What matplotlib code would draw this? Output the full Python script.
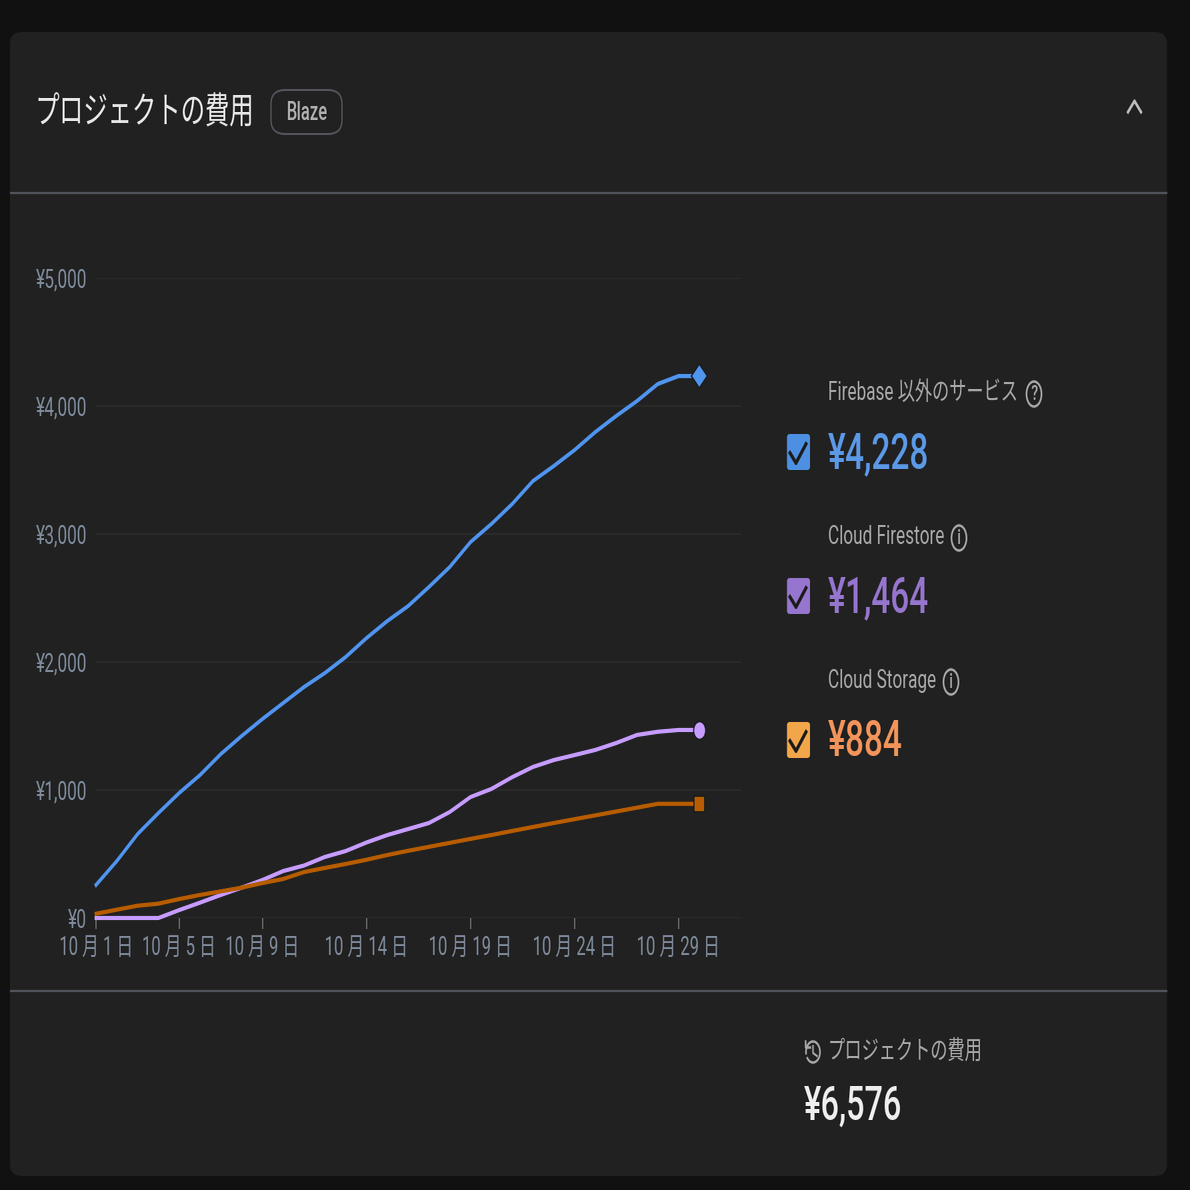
import matplotlib
matplotlib.use("Agg")
import matplotlib.pyplot as plt
from matplotlib.patches import FancyBboxPatch, Ellipse, Arc
from PIL import Image

plt.rcParams['font.family'] = ['Roboto', 'Noto Sans CJK JP', 'DejaVu Sans']

# the reference is squeezed sideways, so draw wide and shrink at the end
SQUEEZE = 1.5

days = list(range(1, 31))
other_services = [258, 445, 656, 820, 977, 1117, 1281, 1422, 1555, 1680,
                  1805, 1914, 2039, 2187, 2320, 2437, 2586, 2742, 2937, 3078,
                  3234, 3414, 3531, 3656, 3797, 3922, 4039, 4172, 4234, 4234]
firestore = [0, 0, 0, 0, 62, 120, 180, 237, 297, 367,
             410, 477, 523, 590, 648, 695, 742, 828, 945, 1008,
             1100, 1180, 1234, 1273, 1313, 1367, 1430, 1455, 1469, 1469]
storage = [33, 65, 96, 112, 148, 180, 208, 237, 273, 305,
           359, 391, 422, 455, 492, 525, 556, 587, 618, 648,
           680, 711, 742, 772, 802, 832, 862, 892, 892, 892]

tick_days = [1, 5, 9, 14, 19, 24, 29]
tick_labels = ["10 月 1 日", "10 月 5 日", "10 月 9 日", "10 月 14 日",
               "10 月 19 日", "10 月 24 日", "10 月 29 日"]
y_ticks = [0, 1000, 2000, 3000, 4000, 5000]
y_labels = ["¥0", "¥1,000", "¥2,000", "¥3,000", "¥4,000", "¥5,000"]

names = ["Firebase 以外のサービス", "Cloud Firestore", "Cloud Storage"]
amounts = ["¥4,228", "¥1,464", "¥884"]
icons = ["?", "i", "i"]
title = "プロジェクトの費用"
plan = "Blaze"
total = "¥6,576"

fig = plt.figure(figsize=(1190 * SQUEEZE / 100, 11.9), dpi=100, facecolor="#111111")

# page layer, coordinates are pixels of the final picture
bg = fig.add_axes([0, 0, 1, 1])
bg.set_xlim(0, 1190)
bg.set_ylim(1190, 0)
bg.axis("off")

bg.add_patch(FancyBboxPatch((22, 44), 1133, 1120, boxstyle="round,pad=12,rounding_size=12",
                            fc="#212121", ec="none", mutation_aspect=1))
bg.plot([10, 1167], [193, 193], color="#50525c", lw=1.6, solid_capstyle="butt")
bg.plot([10, 1167], [991, 991], color="#50525c", lw=1.6, solid_capstyle="butt")

bg.text(35, 113, title, fontsize=26.3, color="#e8e8e8", va="center")
bg.add_patch(FancyBboxPatch((285, 104), 43, 16, boxstyle="round,pad=14,rounding_size=14",
                            fc="none", ec="#55575f", lw=1.4))
bg.text(306.5, 113, plan, fontsize=18, color="#b0b0b0", ha="center", va="center", fontweight="medium")
bg.plot([1128, 1134.5, 1141], [112, 101, 112], color="#bdbdbd", lw=2.4)

box_colors = ["#4d8fe0", "#9575cd", "#f2a64a"]
amount_colors = ["#5b98e6", "#9575cd", "#f2945a"]
row_y = [392, 536, 680]
icon_x = [1034, 959, 951]
for i in range(3):
    y = row_y[i]
    bg.text(828, y + 1, names[i], fontsize=18.5, color="#a8a8a8", va="center")
    bg.add_patch(Ellipse((icon_x[i], y + 2), 15, 25, fc="none", ec="#a8a8a8", lw=1.8))
    bg.text(icon_x[i], y + 2, icons[i], fontsize=15, color="#a8a8a8", ha="center", va="center",
            fontweight="medium")
    bg.add_patch(FancyBboxPatch((790, y + 45), 17, 30, boxstyle="round,pad=3,rounding_size=3",
                                fc=box_colors[i], ec="none"))
    bg.plot([790, 796, 806], [y + 61, y + 71, y + 52], color="#1c1c1c", lw=3)
    bg.text(828, y + 62, amounts[i], fontsize=36, color=amount_colors[i], va="center",
            fontweight="medium")

# history icon next to the total
bg.add_patch(Arc((813, 1052), 14, 21, theta1=-200, theta2=140, color="#a8a8a8", lw=1.8))
bg.plot([805, 805, 810], [1041, 1047, 1047], color="#a8a8a8", lw=1.8)
bg.plot([813, 813, 817], [1046, 1053, 1056], color="#a8a8a8", lw=1.6)
bg.text(828, 1053, title, fontsize=18.5, color="#a8a8a8", va="center")
bg.text(804, 1107, total, fontsize=35, color="#eeeeee", va="center", fontweight="medium")

# chart, x from 96 to 741 px, y from 278 to 918 px
ax = fig.add_axes([96 / 1190, 1 - 918 / 1190, (741 - 96) / 1190, 640 / 1190])
ax.patch.set_alpha(0)
ax.set_xlim(1, 32)
ax.set_ylim(0, 5000)
for s in ax.spines.values():
    s.set_visible(False)
ax.grid(True, axis="y", color="#2a2a2a", lw=1.4)
ax.set_axisbelow(True)

ax.set_xticks(tick_days)
ax.set_xticklabels(tick_labels, fontsize=18, color="#7f8b9c")
ax.set_yticks(y_ticks)
ax.set_yticklabels(y_labels, fontsize=18.5, color="#7f8b9c")
ax.tick_params(axis="x", length=8, width=1.4, color="#6a6a6a", pad=5)
ax.tick_params(axis="y", length=0, pad=10)

for vals, col, mk, ms in [(other_services, "#4f94ef", "D", 12),
                          (firestore, "#c69cff", "o", 13),
                          (storage, "#b85c00", "s", 12)]:
    ax.plot(days, vals, color=col, lw=3, clip_on=False)
    ax.plot(days[-1:], vals[-1:], marker=mk, ms=ms, color=col, mec="#1a1a1a", mew=1.2,
            ls="none", clip_on=False, zorder=5)

fig.savefig("out.png", dpi=100, facecolor=fig.get_facecolor())

img = Image.open("out.png").convert("RGB")
img.resize((1190, 1190), Image.LANCZOS).save("out.png")
